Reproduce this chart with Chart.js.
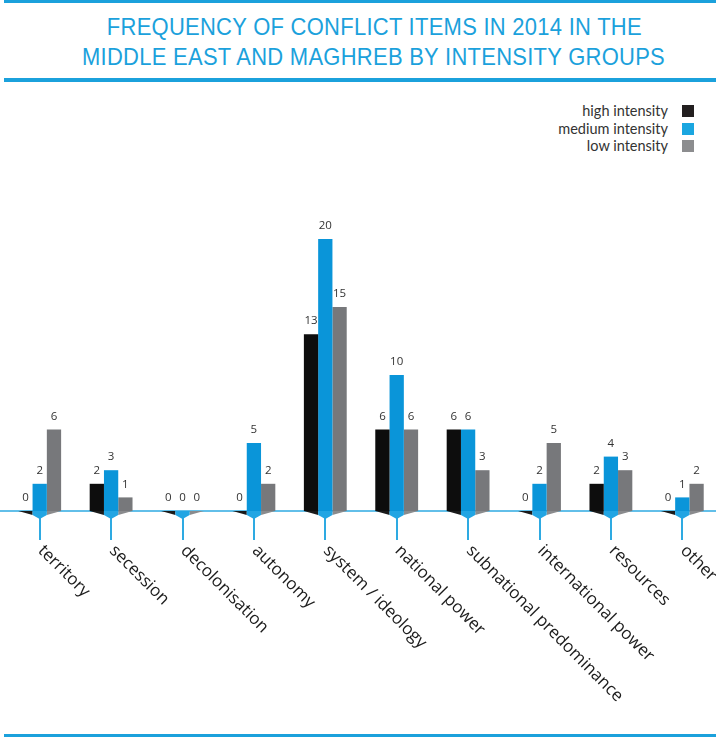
<!DOCTYPE html>
<html>
<head>
<meta charset="utf-8">
<script src="https://cdn.jsdelivr.net/npm/chart.js@4/dist/chart.umd.min.js"></script>
<style>
    html, body { margin: 0; padding: 0; background: #fff; overflow: hidden; }
    #page { position: relative; width: 716px; height: 737px; overflow: hidden; }
    .rule { position: absolute; left: 4px; right: 0; background: #1ba1dc; }
    #title { position: absolute; left: 0; width: 748px; top: 12px; text-align: center;
             font-family: "Liberation Sans Narrow", sans-serif; font-size: 24px; line-height: 30px;
             color: #1ba1dc; letter-spacing: 0.3px; }
    #title span { display: inline-block; white-space: nowrap; transform-origin: 50% 50%; }
    #legend { position: absolute; top: 102px; right: 22px; font-family: "Lato", sans-serif;
              font-size: 14.5px; color: #333; }
    #legend div { height: 17.5px; line-height: 17.5px; text-align: right; white-space: nowrap; }
    #legend i { display: inline-block; width: 12px; height: 12px; margin-left: 14px; vertical-align: -1px; }
    #chart { position: absolute; left: 0; top: 0; }
</style>
</head>
<body>
<div id="page">
    <div class="rule" style="top:0; height:3px;"></div>
    <div id="title">
        <span id="t1">FREQUENCY OF CONFLICT ITEMS IN 2014 IN THE</span><br>
        <span id="t2">MIDDLE EAST AND MAGHREB BY INTENSITY GROUPS</span>
    </div>
    <div class="rule" style="top:78px; height:4px;"></div>
    <div id="legend"></div>
    <canvas id="chart" width="722" height="737"></canvas>
    <div class="rule" style="top:734px; height:3px;"></div>
</div>
<script>
var categories = ['territory', 'secession', 'decolonisation', 'autonomy', 'system / ideology',
    'national power', 'subnational predominance', 'international power', 'resources', 'other'];
var highIntensity = [0, 2, 0, 0, 13, 6, 6, 0, 2, 0];
var mediumIntensity = [2, 3, 0, 5, 20, 10, 6, 2, 4, 1];
var lowIntensity = [6, 1, 0, 2, 15, 6, 3, 5, 3, 2];
var seriesNames = ['high intensity', 'medium intensity', 'low intensity'];

var BAR_COLORS = ['#0d0d0d', '#0a95d9', '#77787b'];
var BASE_COLORS = ['#1a1a1a', '#22a5e3', '#8a8b8d'];
var KEY_COLORS = ['#231f20', '#1aa6e0', '#8c8d8f'];
var AXIS_BLUE = '#2eaae2';

// squeeze the two title lines to the same width
(function () {
    var t2 = document.getElementById('t2');
    var s = 583 / t2.getBoundingClientRect().width;
    document.getElementById('t1').style.transform = 'scaleX(' + s + ')';
    t2.style.transform = 'scaleX(' + s + ')';
})();

// legend, text on the left, colour key on the right
var legend = document.getElementById('legend');
for (var k = 0; k < seriesNames.length; k++) {
    var row = document.createElement('div');
    row.innerHTML = seriesNames[k] + '<i style="background:' + KEY_COLORS[k] + '"></i>';
    legend.appendChild(row);
}

var decorations = {
    id: 'decorations',
    beforeDatasetsDraw: function (chart) {
        var ctx = chart.ctx;
        var xs = chart.scales.x;
        var base = chart.scales.y.getPixelForValue(0);
        ctx.save();
        ctx.strokeStyle = AXIS_BLUE;
        ctx.lineWidth = 1.5;
        ctx.beginPath();
        ctx.moveTo(0, base);
        ctx.lineTo(chart.width, base);
        ctx.stroke();
        ctx.lineWidth = 2;
        for (var i = 0; i < categories.length; i++) {
            var x = Math.round(xs.getPixelForValue(i));
            ctx.beginPath();
            ctx.moveTo(x, base);
            ctx.lineTo(x, base + 29);
            ctx.stroke();
        }
        ctx.restore();
    },
    afterDatasetsDraw: function (chart) {
        var ctx = chart.ctx;
        var base = chart.scales.y.getPixelForValue(0);
        ctx.save();
        // bevelled feet below each group
        for (var i = 0; i < categories.length; i++) {
            var b0 = chart.getDatasetMeta(0).data[i];
            var b1 = chart.getDatasetMeta(1).data[i];
            var b2 = chart.getDatasetMeta(2).data[i];
            var l0 = b0.x - b0.width / 2, r0 = b0.x + b0.width / 2;
            var l1 = b1.x - b1.width / 2, r1 = b1.x + b1.width / 2;
            var l2 = b2.x - b2.width / 2, r2 = b2.x + b2.width / 2;

            ctx.fillStyle = BASE_COLORS[0];
            ctx.beginPath();
            ctx.moveTo(l0, base); ctx.lineTo(r0, base); ctx.lineTo(r0, base + 4);
            ctx.closePath(); ctx.fill();

            ctx.fillStyle = BASE_COLORS[2];
            ctx.beginPath();
            ctx.moveTo(l2, base); ctx.lineTo(r2, base); ctx.lineTo(l2, base + 4);
            ctx.closePath(); ctx.fill();

            ctx.fillStyle = BASE_COLORS[1];
            ctx.beginPath();
            ctx.moveTo(l1, base); ctx.lineTo(r1, base); ctx.lineTo(r1, base + 4);
            ctx.lineTo(b1.x, base + 8); ctx.lineTo(l1, base + 4);
            ctx.closePath(); ctx.fill();
        }
        // value labels
        ctx.fillStyle = '#333';
        ctx.font = '11.5px "Open Sans"';
        ctx.textAlign = 'center';
        ctx.textBaseline = 'middle';
        chart.data.datasets.forEach(function (ds, d) {
            chart.getDatasetMeta(d).data.forEach(function (bar, i) {
                ctx.fillText(String(ds.data[i]), bar.x, bar.y - 13);
            });
        });
        ctx.restore();
    },
    afterDraw: function (chart) {
        // category names, slanted down to the right from each tick
        var ctx = chart.ctx;
        var xs = chart.scales.x;
        var base = chart.scales.y.getPixelForValue(0);
        ctx.save();
        ctx.fillStyle = '#1c1c1c';
        ctx.font = '17px "Open Sans"';
        ctx.textAlign = 'left';
        ctx.textBaseline = 'middle';
        for (var i = 0; i < categories.length; i++) {
            ctx.save();
            ctx.translate(xs.getPixelForValue(i) + 1, base + 37);
            ctx.rotate(Math.PI / 4);
            ctx.fillText(categories[i], 0, 0);
            ctx.restore();
        }
        ctx.restore();
    }
};

var ctx = document.getElementById('chart').getContext('2d');
var chart = new Chart(ctx, {
    type: 'bar',
    data: {
        labels: categories,
        datasets: [
            { label: seriesNames[0], data: highIntensity, backgroundColor: BAR_COLORS[0] },
            { label: seriesNames[1], data: mediumIntensity, backgroundColor: BAR_COLORS[1] },
            { label: seriesNames[2], data: lowIntensity, backgroundColor: BAR_COLORS[2] }
        ]
    },
    options: {
        responsive: false,
        animation: false,
        events: [],
        layout: { padding: { top: 171, bottom: 226, left: 4, right: 4 } },
        datasets: { bar: { categoryPercentage: 0.6, barPercentage: 1.0, borderWidth: 0 } },
        scales: {
            x: { display: false },
            y: { display: false, min: 0, max: 25 }
        },
        plugins: { legend: { display: false }, tooltip: { enabled: false } }
    },
    plugins: [decorations]
});
</script>
</body>
</html>
